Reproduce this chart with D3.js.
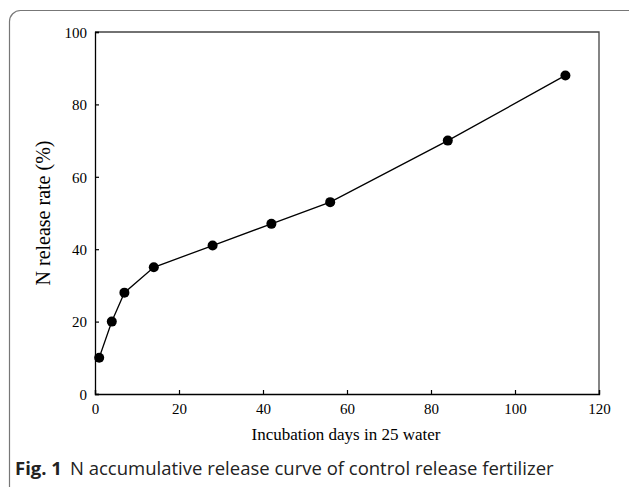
<!DOCTYPE html>
<html><head><meta charset="utf-8">
<script src="https://cdn.jsdelivr.net/npm/d3@7"></script>
<style>body{margin:0;background:#fff}</style>
</head><body>
<script>
const days = [1, 4, 7, 14, 28, 42, 56, 84, 112];
const release = [10, 20, 28, 35, 41, 47, 53, 70, 88];
const xTicks = [0, 20, 40, 60, 80, 100, 120];
const yTicks = [0, 20, 40, 60, 80, 100];
const xTitle = "Incubation days in 25 water";
const yTitle = "N release rate (%)";
const captionBold = "Fig. 1";
const captionText = "N accumulative release curve of control release fertilizer";

const W = 629, H = 487;
const svg = d3.select("body").append("svg").attr("width", W).attr("height", H);

// outer frame
svg.append("rect").attr("x", 9.5).attr("y", 10.5).attr("width", 640).attr("height", 500)
  .attr("rx", 11).attr("fill", "none").attr("stroke", "#777").attr("stroke-width", 1.2);

const L = 95, R = 599, T = 32, B = 394;
const x = d3.scaleLinear().domain([0, 120]).range([L, R]);
const y = d3.scaleLinear().domain([0, 100]).range([B, T]);

// plot box top & right
svg.append("path").attr("d", `M${L},${T}H${R}V${B}`).attr("fill", "none")
  .attr("stroke", "#444").attr("stroke-width", 1.3);

const xAxis = svg.append("g").attr("transform", `translate(0,${B})`)
  .call(d3.axisBottom(x).tickValues(xTicks).tickSize(-4).tickPadding(9).tickFormat(d3.format("d")));
const yAxis = svg.append("g").attr("transform", `translate(${L},0)`)
  .call(d3.axisLeft(y).tickValues(yTicks).tickSize(-4).tickPadding(8).tickFormat(d3.format("d")));
[xAxis, yAxis].forEach(g => {
  g.select(".domain").attr("stroke", "#000").attr("stroke-width", 1.3);
  g.selectAll(".tick line").attr("stroke", "#000").attr("stroke-width", 1.2);
  g.selectAll("text").attr("font-family", "Liberation Serif, Times New Roman, serif")
    .attr("font-size", 15).attr("fill", "#000");
});
yAxis.selectAll("text").attr("dy", "0.35em");

const pts = days.map((d, i) => [d, release[i]]);
svg.append("path").datum(pts)
  .attr("d", d3.line().x(d => x(d[0])).y(d => y(d[1])))
  .attr("fill", "none").attr("stroke", "#000").attr("stroke-width", 1.3);
svg.selectAll("circle.pt").data(pts).enter().append("circle")
  .attr("cx", d => x(d[0])).attr("cy", d => y(d[1])).attr("r", 5).attr("fill", "#000");

svg.append("text").attr("x", 346).attr("y", 440).attr("text-anchor", "middle")
  .attr("font-family", "Liberation Serif, Times New Roman, serif").attr("font-size", 17)
  .text(xTitle);
svg.append("text").attr("transform", `translate(50,${(T + B) / 2 + 0}) rotate(-90)`)
  .attr("text-anchor", "middle")
  .attr("font-family", "Liberation Serif, Times New Roman, serif").attr("font-size", 20)
  .text(yTitle);

const cap = svg.append("text").attr("x", 15).attr("y", 475)
  .attr("font-family", "Open Sans, Noto Sans, sans-serif").attr("font-size", 18.5).attr("fill", "#222");
cap.append("tspan").attr("font-weight", "bold").text(captionBold);
cap.append("tspan").attr("dx", 8).text(captionText);
</script>
</body></html>
